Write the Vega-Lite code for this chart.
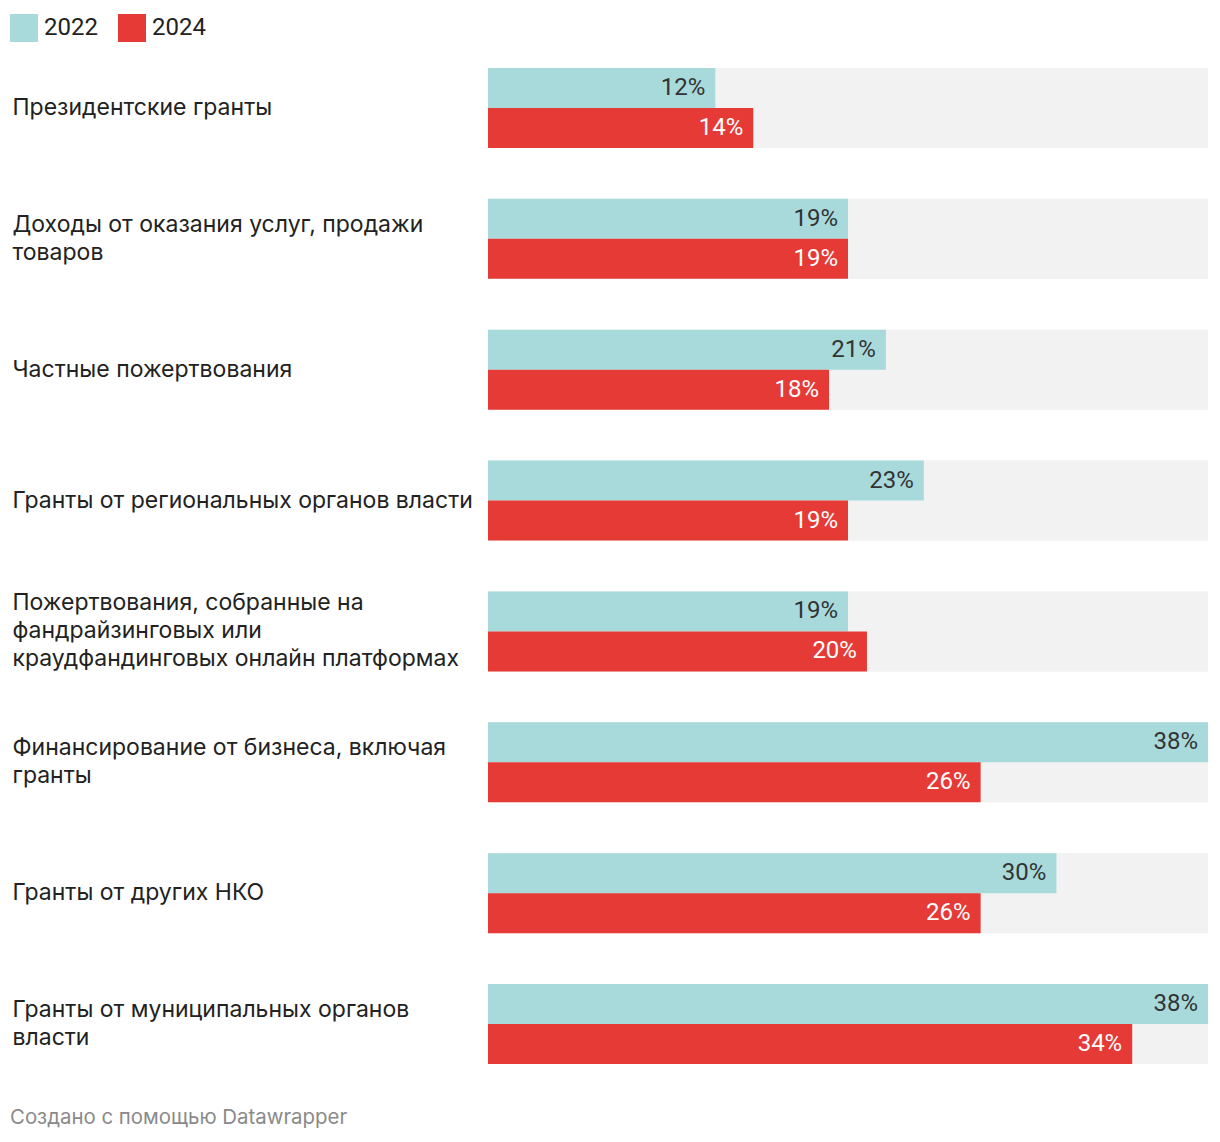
{
  "$schema": "https://vega.github.io/schema/vega-lite/v6.json",
  "width": 720,
  "height": 996,
  "autosize": {"type": "none"},
  "padding": {"left": 488, "top": 68, "right": 12, "bottom": 78},
  "background": "white",
  "title": {
    "text": "Создано с помощью Datawrapper",
    "orient": "bottom",
    "anchor": "start",
    "frame": "group",
    "dx": -478,
    "offset": 44,
    "font": "Inter",
    "fontSize": 20.4,
    "fontWeight": "normal",
    "color": "#8a8a8a"
  },
  "data": {
    "values": [
      {"cat": "Президентские гранты", "year": "2022", "share": 0.12},
      {"cat": "Президентские гранты", "year": "2024", "share": 0.14},
      {"cat": "Доходы от оказания услуг, продажи|товаров", "year": "2022", "share": 0.19},
      {"cat": "Доходы от оказания услуг, продажи|товаров", "year": "2024", "share": 0.19},
      {"cat": "Частные пожертвования", "year": "2022", "share": 0.21},
      {"cat": "Частные пожертвования", "year": "2024", "share": 0.18},
      {"cat": "Гранты от региональных органов власти", "year": "2022", "share": 0.23},
      {"cat": "Гранты от региональных органов власти", "year": "2024", "share": 0.19},
      {"cat": "Пожертвования, собранные на|фандрайзинговых или|краудфандинговых онлайн платформах", "year": "2022", "share": 0.19},
      {"cat": "Пожертвования, собранные на|фандрайзинговых или|краудфандинговых онлайн платформах", "year": "2024", "share": 0.20},
      {"cat": "Финансирование от бизнеса, включая|гранты", "year": "2022", "share": 0.38},
      {"cat": "Финансирование от бизнеса, включая|гранты", "year": "2024", "share": 0.26},
      {"cat": "Гранты от других НКО", "year": "2022", "share": 0.30},
      {"cat": "Гранты от других НКО", "year": "2024", "share": 0.26},
      {"cat": "Гранты от муниципальных органов|власти", "year": "2022", "share": 0.38},
      {"cat": "Гранты от муниципальных органов|власти", "year": "2024", "share": 0.34}
    ]
  },
  "encoding": {
    "y": {
      "field": "cat",
      "type": "nominal",
      "sort": null,
      "scale": {"paddingInner": 0.38865, "paddingOuter": 0},
      "axis": {
        "title": null,
        "domain": false,
        "ticks": false,
        "tickSize": 0,
        "grid": false,
        "labelAlign": "left",
        "labelBaseline": "middle",
        "labelPadding": 476,
        "labelLimit": 474,
        "labelFont": "Inter",
        "labelFontSize": 23,
        "labelColor": "#222222",
        "labelLineHeight": 28,
        "labelOffset": {
          "condition": [
            {"test": "length(split(datum.value, '|')) == 3", "value": -28},
            {"test": "length(split(datum.value, '|')) == 2", "value": -14}
          ],
          "value": 0
        },
        "labelExpr": "split(datum.value, '|')"
      }
    }
  },
  "layer": [
    {
      "mark": {"type": "bar", "color": "#f2f2f2"},
      "encoding": {
        "x": {"datum": 0.38, "type": "quantitative", "scale": {"domain": [0, 0.38], "nice": false, "zero": true}, "axis": null}
      }
    },
    {
      "mark": {"type": "bar"},
      "encoding": {
        "x": {"field": "share", "type": "quantitative", "scale": {"domain": [0, 0.38], "nice": false}, "axis": null},
        "yOffset": {"field": "year", "type": "nominal", "scale": {"paddingInner": 0, "paddingOuter": 0}},
        "color": {
          "field": "year",
          "type": "nominal",
          "scale": {"domain": ["2022", "2024"], "range": ["#a8dadc", "#e63a37"]},
          "legend": {
            "title": null,
            "orient": "none",
            "direction": "horizontal",
            "legendX": -478,
            "legendY": -54,
            "padding": 0,
            "symbolType": "square",
            "symbolSize": 784,
            "symbolStrokeWidth": 0,
            "symbolOpacity": 1,
            "labelFont": "Roboto",
            "labelFontSize": 24,
            "labelColor": "#222222",
            "labelOffset": 6,
            "columnPadding": 20
          }
        }
      }
    },
    {
      "mark": {"type": "text", "align": "right", "baseline": "middle", "dx": -10, "font": "Roboto", "fontSize": 24},
      "encoding": {
        "x": {"field": "share", "type": "quantitative", "axis": null},
        "yOffset": {"field": "year", "type": "nominal"},
        "text": {"field": "share", "type": "quantitative", "format": ".0%"},
        "color": {"condition": {"test": "datum.year == '2024'", "value": "#ffffff"}, "value": "#333333"}
      }
    }
  ],
  "config": {
    "view": {"stroke": null}
  }
}
